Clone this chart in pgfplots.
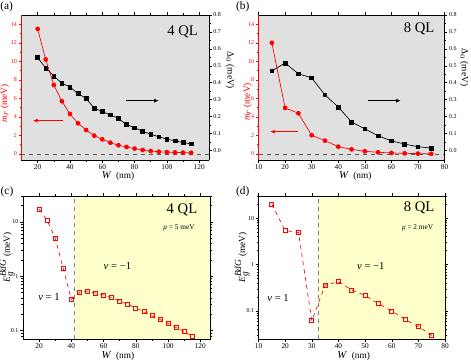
\documentclass[border=0pt]{standalone}
\usepackage{pgfplots}
\pgfplotsset{compat=1.18}
\usepackage{fontspec}
\setmainfont{Liberation Serif}
\usetikzlibrary{arrows.meta}
\definecolor{bggray}{RGB}{224,224,224}
\definecolor{lyellow}{RGB}{255,255,204}

\pgfplotsset{
  common/.style={
    scale only axis, anchor=south west, clip=false,
    tick align=outside, major tick length=2.2pt, minor tick length=1.2pt,
    /pgf/number format/assume math mode=true,
    every tick/.style={line width=0.4pt},
    axis line style={line width=0.5pt},
    x tick label style={font=\fontsize{5.5}{6}\selectfont, inner sep=1pt},
    y tick label style={font=\fontsize{4.5}{5}\selectfont, inner sep=1pt},
  },
}
\tikzset{lab/.style={font=\fontsize{7}{8}\selectfont, inner sep=0pt}}

\begin{document}
\begin{tikzpicture}

% ---------- (a) ----------
\begin{axis}[common, at={(16.1pt,150pt)}, width=140.6pt, height=108.75pt,
  xmin=10, xmax=126, ymin=-0.65, ymax=15,
  axis x line*=box, axis y line*=left,
  xtick={20,40,60,80,100,120}, minor xtick={30,50,70,90,110},
  ytick={0,2,4,6,8,10,12,14}, minor ytick={1,3,5,7,9,11,13},
  y axis line style={red}, ytick style={red}, yticklabel style={text=red},
  axis background/.style={fill=bggray},
]
\draw[gray!70!black, dashed, line width=0.4pt] (axis cs:10,0) -- (axis cs:126,0);
\addplot[red, line width=0.5pt, mark=*, mark size=1.5pt, mark options={solid, fill=red}] coordinates {
  (20,13.5) (25,10.2) (30,7.45) (35,5.69) (40,4.32) (45,3.31) (50,2.59)
  (55,1.98) (60,1.58) (65,1.22) (70,0.94) (75,0.76) (80,0.58) (85,0.43)
  (90,0.32) (95,0.24) (100,0.2) (105,0.17) (110,0.15) (115,0.13)
};
\draw[red, line width=0.7pt, -{Latex[length=3.5pt,width=3pt]}] (rel axis cs:0.22,0.271) -- (rel axis cs:0.061,0.271);
\draw[black, line width=0.7pt, -{Latex[length=3.5pt,width=3pt]}] (rel axis cs:0.557,0.409) -- (rel axis cs:0.733,0.409);
\node[font=\fontsize{11}{12}\selectfont] at (rel axis cs:0.86,0.885) {4 QL};
\node[lab, rotate=90, red] at (rel axis cs:-0.088,0.39) {\textit{m}$_{\textit{r}}$\ (meV)};
\node[lab] at (rel axis cs:0.515,-0.11) {{\fontsize{8}{9}\selectfont\textit{W}}\ \ (nm)};
\end{axis}
\begin{axis}[common, at={(16.1pt,150pt)}, width=140.6pt, height=108.75pt,
  xmin=10, xmax=126, ymin=-0.056, ymax=0.8,
  axis y line*=right, axis x line=none,
  ytick={0,0.1,0.2,0.3,0.4,0.5,0.6,0.7,0.8},
  minor ytick={0.05,0.15,0.25,0.35,0.45,0.55,0.65,0.75},
  yticklabel style={/pgf/number format/.cd, fixed, fixed zerofill, precision=1},
]
\addplot[black, line width=0.5pt, mark=square*, mark size=1.4pt] coordinates {
  (20,0.548) (25,0.487) (30,0.44) (35,0.397) (40,0.375) (45,0.336) (50,0.307)
  (55,0.25) (60,0.23) (65,0.21) (70,0.189) (75,0.153) (80,0.134) (85,0.114)
  (90,0.096) (95,0.081) (100,0.067) (105,0.057) (110,0.047) (115,0.039)
};
\node[lab, rotate=-90] at (rel axis cs:1.112,0.62) {Δ$_0$\ (meV)};
\end{axis}

% ---------- (b) ----------
\begin{axis}[common, at={(193.9pt,150pt)}, width=139.5pt, height=108.75pt,
  xmin=10, xmax=80, ymin=-0.65, ymax=15,
  axis x line*=box, axis y line*=left,
  xtick={10,20,30,40,50,60,70,80},
  ytick={0,2,4,6,8,10,12,14}, minor ytick={1,3,5,7,9,11,13},
  y axis line style={red}, ytick style={red}, yticklabel style={text=red},
  axis background/.style={fill=bggray},
]
\draw[gray!70!black, dashed, line width=0.4pt] (axis cs:10,0) -- (axis cs:80,0);
\addplot[red, line width=0.5pt, mark=*, mark size=1.5pt, mark options={solid, fill=red}] coordinates {
  (15,12.0) (20,4.97) (25,4.39) (30,2.02) (35,1.44) (40,0.79) (45,0.5)
  (50,0.29) (55,0.18) (60,0.11) (65,0.07) (70,0.04) (75,0.02)
};
\draw[red, line width=0.7pt, -{Latex[length=3.5pt,width=3pt]}] (rel axis cs:0.214,0.195) -- (rel axis cs:0.062,0.195);
\draw[black, line width=0.7pt, -{Latex[length=3.5pt,width=3pt]}] (rel axis cs:0.59,0.409) -- (rel axis cs:0.765,0.409);
\node[font=\fontsize{11}{12}\selectfont] at (rel axis cs:0.863,0.908) {8 QL};
\node[lab, rotate=90, red] at (rel axis cs:-0.058,0.40) {\textit{m}$_{\textit{r}}$\ (meV)};
\node[lab] at (rel axis cs:0.52,-0.11) {{\fontsize{8}{9}\selectfont\textit{W}}\ \ (nm)};
\end{axis}
\begin{axis}[common, at={(193.9pt,150pt)}, width=139.5pt, height=108.75pt,
  xmin=10, xmax=80, ymin=-0.056, ymax=0.8,
  axis y line*=right, axis x line=none,
  ytick={0,0.1,0.2,0.3,0.4,0.5,0.6,0.7,0.8},
  minor ytick={0.05,0.15,0.25,0.35,0.45,0.55,0.65,0.75},
  yticklabel style={/pgf/number format/.cd, fixed, fixed zerofill, precision=1},
]
\addplot[black, line width=0.5pt, mark=square*, mark size=1.4pt] coordinates {
  (15,0.47) (20,0.516) (25,0.453) (30,0.429) (35,0.328) (40,0.257) (45,0.168)
  (50,0.128) (55,0.087) (60,0.057) (65,0.038) (70,0.022) (75,0.015)
};
\node[lab, rotate=-90] at (rel axis cs:1.105,0.64) {Δ$_0$\ (meV)};
\end{axis}

% ---------- (c) ----------
\begin{axis}[common, axis on top, ymode=log, at={(17.25pt,15.75pt)}, width=140.25pt, height=107.25pt,
  xmin=10, xmax=126, ymin=0.07, ymax=30,
  xtick={20,40,60,80,100,120}, minor xtick={30,50,70,90,110},
  ytick={0.1,1,10}, yticklabels={0.1,1,10},
  minor ytick={0.08,0.09,0.2,0.3,0.4,0.5,0.6,0.7,0.8,0.9,2,3,4,5,6,7,8,9,20,30},
]
\fill[lyellow] (axis cs:42,0.07) rectangle (axis cs:126,30);
\draw[gray, dashed, line width=0.4pt] (axis cs:42,0.07) -- (axis cs:42,30);
\addplot[red, dashed, line width=0.5pt, mark=square, mark size=1.5pt, mark options={solid, line width=0.6pt}] coordinates {
  (20,17.1) (25,10.6) (30,5.0) (35,1.38) (40,0.377) (45,0.508) (50,0.53)
  (55,0.49) (60,0.45) (65,0.40) (70,0.347) (75,0.305) (80,0.261) (85,0.224)
  (90,0.189) (95,0.16) (100,0.135) (105,0.114) (110,0.096) (115,0.079)
};
\node[font=\fontsize{11}{12}\selectfont] at (rel axis cs:0.85,0.90) {4 QL};
\node[font=\fontsize{5.5}{6}\selectfont] at (rel axis cs:0.834,0.778) {\textit{μ} = 5 meV};
\node[font=\fontsize{8}{9}\selectfont] at (rel axis cs:0.505,0.513) {\textit{ν} = −1};
\node[font=\fontsize{8}{9}\selectfont] at (rel axis cs:0.139,0.294) {\textit{ν} = 1};
\node[lab, rotate=90] at (rel axis cs:-0.086,0.57) {\textit{E}$_{\textit{g}}^{\textit{BdG}}$\ (meV)};
\node[lab] at (rel axis cs:0.508,-0.12) {{\fontsize{8}{9}\selectfont\textit{W}}\ \ (nm)};
\end{axis}

% ---------- (d) ----------
\begin{axis}[common, axis on top, ymode=log, at={(193.9pt,15.75pt)}, width=139.9pt, height=107.25pt,
  xmin=10, xmax=80, ymin=0.025, ymax=30,
  xtick={10,20,30,40,50,60,70,80},
  ytick={0.1,1,10}, yticklabels={0.1,1,10},
  minor ytick={0.03,0.04,0.05,0.06,0.07,0.08,0.09,0.2,0.3,0.4,0.5,0.6,0.7,0.8,0.9,2,3,4,5,6,7,8,9,20,30},
]
\fill[lyellow] (axis cs:32.5,0.025) rectangle (axis cs:80,30);
\draw[gray, dashed, line width=0.4pt] (axis cs:32.5,0.025) -- (axis cs:32.5,30);
\addplot[red, dashed, line width=0.5pt, mark=square, mark size=1.5pt, mark options={solid, line width=0.6pt}] coordinates {
  (15,20.0) (20,5.4) (25,4.9) (30,0.062) (35,0.362) (40,0.428) (45,0.283)
  (50,0.217) (55,0.144) (60,0.10) (65,0.066) (70,0.046) (75,0.030)
};
\node[font=\fontsize{11}{12}\selectfont] at (rel axis cs:0.861,0.916) {8 QL};
\node[font=\fontsize{5.5}{6}\selectfont] at (rel axis cs:0.853,0.778) {\textit{μ} = 2 meV};
\node[font=\fontsize{8}{9}\selectfont] at (rel axis cs:0.602,0.513) {\textit{ν} = −1};
\node[font=\fontsize{8}{9}\selectfont] at (rel axis cs:0.105,0.289) {\textit{ν} = 1};
\node[lab, rotate=90] at (rel axis cs:-0.088,0.57) {\textit{E}$_{\textit{g}}^{\textit{BdG}}$\ (meV)};
\node[lab] at (rel axis cs:0.51,-0.12) {{\fontsize{8}{9}\selectfont\textit{W}}\ \ (nm)};
\end{axis}

\node[font=\fontsize{8.5}{9}\selectfont] at (5pt,265pt) {(a)};
\node[font=\fontsize{8.5}{9}\selectfont] at (182pt,265pt) {(b)};
\node[font=\fontsize{8.5}{9}\selectfont] at (5.25pt,126pt) {(c)};
\node[font=\fontsize{8.5}{9}\selectfont] at (182pt,126pt) {(d)};

\pgfresetboundingbox
\useasboundingbox (0,0) rectangle (353.25pt,270pt);
\end{tikzpicture}
\end{document}
